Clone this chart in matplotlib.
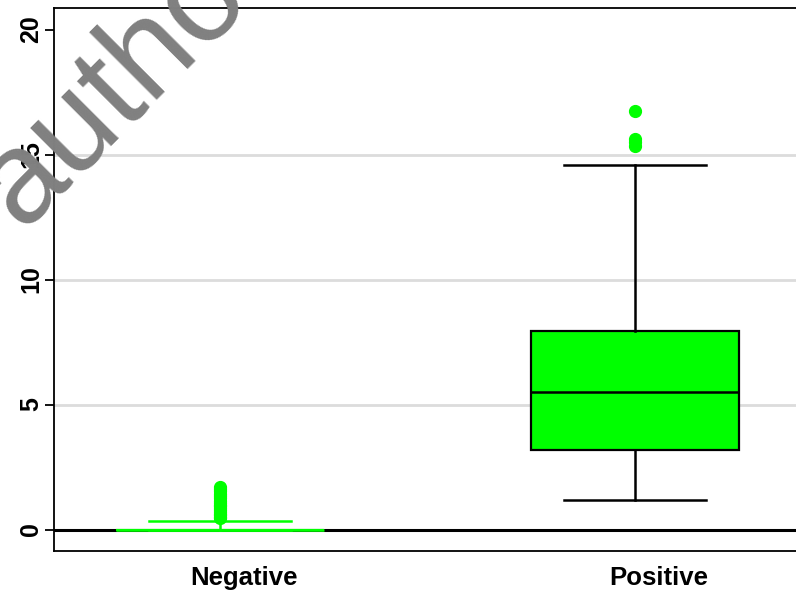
import matplotlib
matplotlib.use('Agg')
import matplotlib.pyplot as plt
import matplotlib.transforms as mtransforms

plt.rcParams['font.family'] = ['Liberation Sans', 'DejaVu Sans']

# box statistics
groups = ['Negative', 'Positive']
q1 = [0.0, 3.18]
med = [0.0, 5.5]
q3 = [0.0, 7.95]
whislo = [0.0, 1.17]
whishi = [0.34, 14.57]
fliers_neg = [0.46, 0.52, 0.58, 0.64, 0.7, 0.77, 0.85, 0.93, 1.0, 1.08,
              1.16, 1.25, 1.34, 1.44, 1.53, 1.62, 1.7]
fliers_pos = [15.35, 15.5, 15.62, 16.75]
yticks = [0, 5, 10, 15, 20]
grid_y = [5, 10, 15]

green = '#00ff00'

fig = plt.figure(figsize=(7.96, 5.91), dpi=100)
ax = fig.add_axes([54 / 796, 40 / 591, 747 / 796, 543 / 591])

for g in grid_y:
    ax.axhline(g, color='#dcdcdc', lw=2, zorder=0.5)
ax.axhline(0, color='black', lw=2.2, zorder=1)

stats = []
for i, name in enumerate(groups):
    stats.append(dict(label=name, q1=q1[i], med=med[i], q3=q3[i],
                      whislo=whislo[i], whishi=whishi[i],
                      fliers=[fliers_neg, fliers_pos][i]))

# negative group is drawn all in green, positive with black lines
for i, st in enumerate(stats):
    lc = green if i == 0 else 'black'
    ax.bxp([st], positions=[i + 1], widths=0.5, capwidths=0.34,
           patch_artist=True, manage_ticks=False,
           boxprops=dict(facecolor=green, edgecolor=lc, linewidth=1.6),
           medianprops=dict(color=lc, linewidth=1.8),
           whiskerprops=dict(color=lc, linewidth=1.8, linestyle='-'),
           capprops=dict(color=lc, linewidth=1.8),
           flierprops=dict(marker='o', markerfacecolor=green,
                           markeredgecolor=green, markersize=8.5),
           zorder=2)

ax.set_xlim(0.6, 2.4)
ax.set_ylim(-0.86, 20.86)

ax.set_yticks(yticks)
ax.set_yticklabels([str(t) for t in yticks], rotation=90, va='center',
                   fontsize=18, fontweight='bold')
ax.tick_params(axis='y', length=6.5, width=1.3, pad=1.5)

ax.set_xticks([1, 2])
ax.set_xticklabels(groups, fontsize=18.5, fontweight='bold')
ax.tick_params(axis='x', length=0, pad=11)
shift = mtransforms.ScaledTranslation(24 / 100, 0, fig.dpi_scale_trans)
for lab in ax.get_xticklabels():
    lab.set_transform(lab.get_transform() + shift)

for s in ax.spines.values():
    s.set_linewidth(1.3)

# diagonal watermark
fig.text(22 / 796, 1 - 230 / 591, 'author', fontsize=94, color='#808080',
         rotation=45, rotation_mode='anchor', ha='left', va='baseline',
         zorder=0)

fig.savefig('out.png', dpi=100)
